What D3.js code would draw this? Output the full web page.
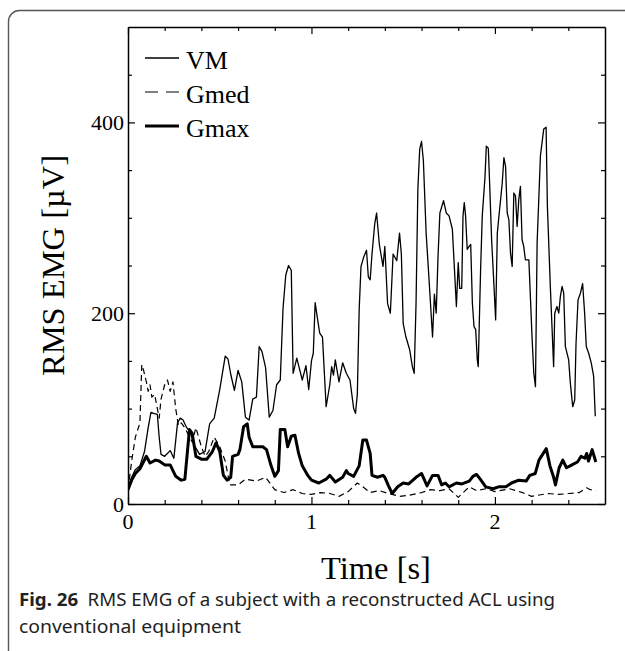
<!DOCTYPE html>
<html>
<head>
<meta charset="utf-8">
<script src="https://cdn.jsdelivr.net/npm/d3@7"></script>
<style>
  html, body { margin: 0; padding: 0; background: #fff; overflow: hidden; }
  svg { display: block; }
</style>
</head>
<body>
<svg id="chart" width="625" height="651"></svg>
<script>
// RMS EMG traces, [time (s), amplitude (µV)]
const vm = [
  [0,18],[0.02,28],[0.04,36],[0.065,40],[0.09,55],[0.11,80],[0.125,96],[0.14,95],[0.16,94],[0.17,70],
  [0.18,52],[0.2,50],[0.23,56],[0.25,48],[0.27,85],[0.285,90],[0.3,88],[0.32,80],[0.34,75],[0.36,62],
  [0.39,52],[0.42,55],[0.445,84],[0.47,90],[0.5,120],[0.53,155],[0.545,152],[0.56,136],[0.58,119],[0.6,140],
  [0.62,128],[0.64,91],[0.66,88],[0.68,110],[0.7,112],[0.715,165],[0.73,160],[0.75,143],[0.77,91],[0.79,98],
  [0.81,125],[0.83,130],[0.845,205],[0.86,240],[0.875,250],[0.89,245],[0.9,137],[0.92,153],[0.95,130],[0.97,145],
  [0.985,120],[1.0,150],[1.01,158],[1.02,211],[1.03,198],[1.045,179],[1.06,175],[1.08,102],[1.1,125],[1.11,144],
  [1.12,135],[1.13,151],[1.15,128],[1.17,148],[1.19,137],[1.21,130],[1.23,100],[1.24,95],[1.25,115],[1.26,203],
  [1.27,249],[1.285,259],[1.3,266],[1.31,238],[1.32,235],[1.33,262],[1.345,294],[1.355,305],[1.37,272],[1.39,249],
  [1.4,270],[1.415,210],[1.43,200],[1.445,262],[1.465,255],[1.48,284],[1.49,262],[1.5,189],[1.515,175],[1.535,162],
  [1.55,144],[1.56,137],[1.57,210],[1.58,330],[1.59,372],[1.6,380],[1.61,360],[1.625,284],[1.64,238],[1.66,175],
  [1.67,220],[1.68,200],[1.69,260],[1.7,305],[1.72,318],[1.735,305],[1.75,302],[1.768,288],[1.79,207],[1.8,253],
  [1.808,226],[1.819,226],[1.826,302],[1.833,316],[1.84,302],[1.849,267],[1.859,270],[1.868,272],[1.877,211],[1.886,186],
  [1.895,183],[1.904,151],[1.909,144],[1.917,207],[1.922,246],[1.931,302],[1.946,343],[1.953,375],[1.964,373],[1.971,337],
  [1.982,277],[1.995,228],[2.004,193],[2.013,284],[2.022,302],[2.031,319],[2.04,337],[2.049,363],[2.058,354],[2.067,305],
  [2.076,298],[2.085,263],[2.094,249],[2.103,326],[2.112,323],[2.121,291],[2.13,319],[2.139,333],[2.148,277],[2.157,270],
  [2.166,256],[2.185,256],[2.194,214],[2.203,172],[2.212,137],[2.221,123],[2.23,274],[2.239,319],[2.248,365],[2.266,393],
  [2.279,395],[2.286,312],[2.302,228],[2.311,186],[2.32,144],[2.326,200],[2.338,207],[2.348,200],[2.357,218],[2.366,228],
  [2.375,221],[2.384,165],[2.402,151],[2.411,127],[2.424,102],[2.435,109],[2.442,168],[2.453,214],[2.466,221],[2.478,231],
  [2.489,200],[2.498,165],[2.511,158],[2.525,148],[2.538,134],[2.547,92]
];

const gmed = [
  [0,15],[0.02,45],[0.04,70],[0.065,85],[0.075,146],[0.085,140],[0.1,128],[0.11,118],[0.12,125],[0.13,112],
  [0.145,115],[0.16,100],[0.17,90],[0.18,110],[0.2,125],[0.215,130],[0.23,118],[0.245,128],[0.26,100],[0.275,82],
  [0.29,85],[0.31,80],[0.33,72],[0.35,65],[0.37,80],[0.4,60],[0.42,50],[0.44,55],[0.47,70],[0.5,60],
  [0.53,45],[0.555,20],[0.6,20],[0.64,26],[0.7,24],[0.75,28],
  [0.8,15],[0.85,12],[0.9,15],[0.95,11],[1.0,10],[1.05,12],[1.1,11],[1.15,8],[1.2,13],[1.25,22],
  [1.28,18],[1.32,12],[1.37,14],[1.42,11],[1.48,8],[1.53,9],[1.6,12],[1.65,15],[1.7,14],[1.75,16],
  [1.8,7],[1.86,18],[1.9,14],[1.95,16],[2.0,13],[2.08,16],[2.15,12],[2.2,8],[2.29,11],[2.35,10],
  [2.4,11],[2.46,12],[2.5,17],[2.52,15],[2.55,14]
];

const gmax = [
  [0,15],[0.02,25],[0.04,32],[0.065,37],[0.1,50],[0.12,43],[0.15,46],[0.17,45],[0.2,41],[0.23,41],
  [0.26,29],[0.29,25],[0.31,26],[0.335,78],[0.35,74],[0.37,50],[0.4,47],[0.43,47],[0.46,55],[0.48,64],
  [0.5,55],[0.52,30],[0.54,25],[0.56,28],[0.57,50],[0.6,52],[0.61,57],[0.63,81],[0.65,84],[0.66,70],
  [0.68,60],[0.71,60],[0.735,60],[0.755,57],[0.78,40],[0.8,29],[0.82,35],[0.83,78],[0.855,78],[0.87,60],
  [0.89,71],[0.91,72],[0.93,53],[0.95,40],[0.98,30],[1.0,25],[1.04,22],[1.08,26],[1.1,30],[1.13,23],
  [1.17,28],[1.19,35],[1.2,32],[1.23,29],[1.26,40],[1.28,67],[1.3,67],[1.32,53],[1.33,30],[1.36,28],
  [1.39,30],[1.4,28],[1.42,19],[1.44,11],[1.47,18],[1.5,22],[1.53,21],[1.57,28],[1.6,32],[1.63,19],
  [1.66,30],[1.69,30],[1.71,20],[1.73,22],[1.75,18],[1.79,22],[1.82,21],[1.86,24],[1.88,29],[1.9,31],
  [1.92,26],[1.95,18],[1.99,16],[2.02,18],[2.06,18],[2.09,22],[2.13,25],[2.17,24],[2.19,30],[2.22,32],
  [2.24,46],[2.26,52],[2.28,58],[2.3,40],[2.32,28],[2.33,20],[2.35,38],[2.37,46],[2.39,38],[2.41,40],
  [2.43,42],[2.45,44],[2.47,50],[2.49,48],[2.5,53],[2.51,45],[2.53,57],[2.55,44]
];

const seriesNames = ["VM", "Gmed", "Gmax"];
const xTicks = [0, 0.2, 0.4, 0.6, 0.8, 1, 1.2, 1.4, 1.6, 1.8, 2, 2.2, 2.4];
const xLabels = [0, 1, 2];
const yTicks = [0, 50, 100, 150, 200, 250, 300, 350, 400, 450];
const yLabels = [0, 200, 400];
const xTitle = "Time [s]";
const yTitle = "RMS EMG [µV]";
const captionBold = "Fig. 26";
const captionLines = ["RMS EMG of a subject with a reconstructed ACL using", "conventional equipment"];

const svg = d3.select("#chart");
const serif = "'Liberation Serif', 'Times New Roman', serif";

// outer frame: left and top edges with a rounded corner, running off the page
svg.append("path")
  .attr("d", "M8.5,651 V21.5 A11,11 0 0 1 19.5,10.5 H625")
  .attr("fill", "none").attr("stroke", "#555").attr("stroke-width", 1.4);

const plot = { left: 128, right: 605, top: 27, bottom: 504 };
const x = d3.scaleLinear().domain([0, 2.6]).range([plot.left, plot.right]);
const y = d3.scaleLinear().domain([0, 500]).range([plot.bottom, plot.top]);

const line = d3.line().x(d => x(d[0])).y(d => y(d[1]));

svg.append("clipPath").attr("id", "plotclip")
  .append("rect").attr("x", plot.left).attr("y", plot.top)
  .attr("width", plot.right - plot.left).attr("height", plot.bottom - plot.top);

const traces = svg.append("g").attr("clip-path", "url(#plotclip)");
traces.append("path").datum(gmed).attr("d", line)
  .attr("fill", "none").attr("stroke", "#000").attr("stroke-width", 1.2)
  .attr("stroke-dasharray", "6,4").attr("stroke-linejoin", "round");
traces.append("path").datum(vm).attr("d", line)
  .attr("fill", "none").attr("stroke", "#000").attr("stroke-width", 1.3)
  .attr("stroke-linejoin", "round");
traces.append("path").datum(gmax).attr("d", line)
  .attr("fill", "none").attr("stroke", "#000").attr("stroke-width", 3)
  .attr("stroke-linejoin", "round");

// axes: ticks point inward on all four sides
function tickLen(isMajor) { return isMajor ? 7 : 4; }

const gB = svg.append("g").attr("transform", `translate(0,${plot.bottom})`)
  .call(d3.axisBottom(x).tickValues(xTicks).tickSize(0).tickFormat(() => ""));
const gT = svg.append("g").attr("transform", `translate(0,${plot.top})`)
  .call(d3.axisTop(x).tickValues(xTicks).tickSize(0).tickFormat(() => ""));
const gL = svg.append("g").attr("transform", `translate(${plot.left},0)`)
  .call(d3.axisLeft(y).tickValues(yTicks).tickSize(0).tickFormat(() => ""));
const gR = svg.append("g").attr("transform", `translate(${plot.right},0)`)
  .call(d3.axisRight(y).tickValues(yTicks).tickSize(0).tickFormat(() => ""));

[gB, gT, gL, gR].forEach(g => {
  g.select(".domain").attr("stroke", "#000").attr("stroke-width", 1.5);
});
gB.selectAll(".tick line").attr("y2", d => -tickLen(xLabels.includes(d))).attr("stroke", "#000").attr("stroke-width", 1.2);
gT.selectAll(".tick line").attr("y2", d => tickLen(xLabels.includes(d))).attr("stroke", "#000").attr("stroke-width", 1.2);
gL.selectAll(".tick line").attr("x2", d => tickLen(yLabels.includes(d))).attr("stroke", "#000").attr("stroke-width", 1.2);
gR.selectAll(".tick line").attr("x2", d => -tickLen(yLabels.includes(d))).attr("stroke", "#000").attr("stroke-width", 1.2);

// tick labels
svg.append("g").selectAll("text").data(xLabels).join("text")
  .attr("x", d => x(d)).attr("y", plot.bottom + 25)
  .attr("text-anchor", "middle").attr("font-family", serif).attr("font-size", 22)
  .text(d => d);
svg.append("g").selectAll("text").data(yLabels).join("text")
  .attr("x", plot.left - 4).attr("y", d => y(d) + 8)
  .attr("text-anchor", "end").attr("font-family", serif).attr("font-size", 22)
  .text(d => d);

// axis titles
svg.append("text").attr("x", 376).attr("y", 579)
  .attr("text-anchor", "middle").attr("font-family", serif).attr("font-size", 32.5)
  .text(xTitle);
svg.append("text").attr("transform", `translate(64,${(plot.top + plot.bottom) / 2}) rotate(-90)`)
  .attr("text-anchor", "middle").attr("font-family", serif).attr("font-size", 32.5)
  .text(yTitle);

// legend
const legendStyles = [
  { w: 1.3, dash: null },
  { w: 1.2, dash: "13,8" },
  { w: 3, dash: null }
];
const legend = svg.append("g");
seriesNames.forEach((name, i) => {
  const cy = 58 + i * 34;
  const l = legend.append("line").attr("x1", 145).attr("x2", 179).attr("y1", cy).attr("y2", cy)
    .attr("stroke", "#000").attr("stroke-width", legendStyles[i].w);
  if (legendStyles[i].dash) l.attr("stroke-dasharray", legendStyles[i].dash);
  legend.append("text").attr("x", 186).attr("y", cy + 11)
    .attr("font-family", serif).attr("font-size", 26).text(name);
});

// caption
const sans = "'Noto Sans', 'Open Sans', sans-serif";
const cap1 = svg.append("text").attr("x", 19).attr("y", 606)
  .attr("font-family", sans).attr("font-size", 18).attr("fill", "#222")
  .attr("textLength", 536).attr("lengthAdjust", "spacingAndGlyphs");
cap1.append("tspan").attr("font-weight", "bold").text(captionBold);
cap1.append("tspan").text("\u2002" + captionLines[0]);
svg.append("text").attr("x", 19).attr("y", 633)
  .attr("font-family", sans).attr("font-size", 18).attr("fill", "#222")
  .attr("textLength", 222).attr("lengthAdjust", "spacingAndGlyphs")
  .text(captionLines[1]);
</script>
</body>
</html>
